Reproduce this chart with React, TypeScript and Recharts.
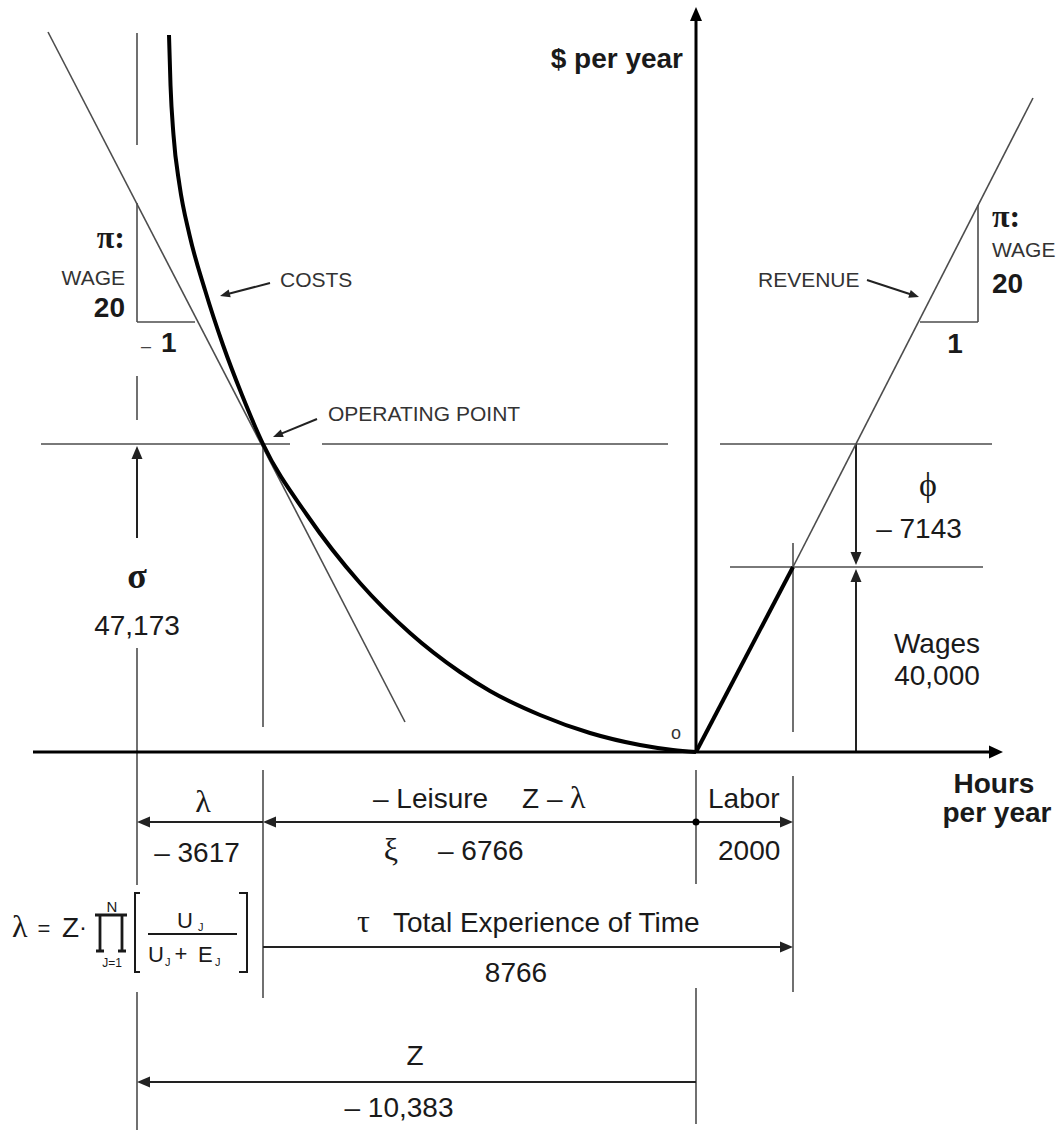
import React from 'react';
import { ComposedChart, XAxis, YAxis, Line, ReferenceLine, ReferenceDot } from 'recharts';

// Schematic diagram units (not to scale): x = hours per year axis, y = $ per year axis, origin O = (0, 0).
const costX = [-527, -525.5, -522.5, -516.5, -506.5, -491, -473, -454, -433, -389, -336, -286, -236, -206, -156, -106, -56, -23, 0];
const costY = [717, 667, 617, 567, 517, 462, 407, 357, 308, 237, 169, 119, 80, 61, 37, 19, 7, 2, 0];
const revenueX = [0, 97, 337];
const revenueY = [0, 185, 654];
const wageLineX = [-648, -291];
const wageLineY = [720, 30];

// key positions on the hours axis and the $ axis
const hourMarks = { Z: -559, lambda: -433, O: 0, labor: 97, phi: 160 };
const dollarLevels = { sigma: 308, wages: 185 };
const dimRows = [-70, -195, -330];

const hourValues = ['– 3617', '– 6766', '2000', '8766', '– 10,383'];
const dollarValues = ['47,173', '– 7143', '40,000'];
const curveNames = ['COSTS', 'OPERATING POINT', 'REVENUE'];
const axisTitles = ['$ per year', 'Hours', 'per year'];
const wageTexts = ['π:', 'WAGE', '20', '1'];

const SANS = "'Liberation Sans', Arial, Helvetica, sans-serif";
const SERIF = "'Liberation Serif', 'Times New Roman', serif";
const THIN = '#4d4d4d';
const DARK = '#1a1a1a';

type SegOpt = { w?: number; c?: string; head?: boolean; hl?: number; hw?: number };

function drawSeg(p: any, o: SegOpt) {
  const { x1, y1, x2, y2 } = p;
  const w = o.w ?? 1.6;
  const c = o.c ?? THIN;
  if (!o.head) {
    return <line x1={x1} y1={y1} x2={x2} y2={y2} stroke={c} strokeWidth={w} />;
  }
  const dx = x2 - x1;
  const dy = y2 - y1;
  const len = Math.hypot(dx, dy) || 1;
  const ux = dx / len;
  const uy = dy / len;
  const L = o.hl ?? 13;
  const H = o.hw ?? 5.5;
  const bx = x2 - ux * L;
  const by = y2 - uy * L;
  const pts = `${x2},${y2} ${bx - uy * H},${by + ux * H} ${bx + uy * H},${by - ux * H}`;
  return (
    <g>
      <line x1={x1} y1={y1} x2={bx + ux} y2={by + uy} stroke={c} strokeWidth={w} />
      <polygon points={pts} fill={c} />
    </g>
  );
}

function seg(key: string, a: [number, number], b: [number, number], o: SegOpt = {}) {
  return (
    <ReferenceLine
      key={key}
      segment={[{ x: a[0], y: a[1] }, { x: b[0], y: b[1] }]}
      ifOverflow="visible"
      shape={(p: any) => drawSeg(p, o)}
    />
  );
}

function note(key: string, x: number, y: number, render: (cx: number, cy: number) => React.ReactNode) {
  return (
    <ReferenceDot
      key={key}
      x={x}
      y={y}
      r={1}
      ifOverflow="visible"
      isFront
      shape={(p: any) => <g>{render(p.cx, p.cy)}</g>}
    />
  );
}

type TOpt = { size?: number; weight?: string | number; anchor?: 'start' | 'middle' | 'end'; family?: string; fill?: string };
function T(x: number, y: number, s: React.ReactNode, o: TOpt = {}) {
  return (
    <text
      x={x}
      y={y}
      fontSize={o.size ?? 28}
      fontWeight={o.weight ?? 'normal'}
      textAnchor={o.anchor ?? 'start'}
      fontFamily={o.family ?? SANS}
      fill={o.fill ?? DARK}
    >
      {s}
    </text>
  );
}

export default function App() {
  const costData = costX.map((x, i) => ({ x, y: costY[i] }));
  const revThick = revenueX.slice(0, 2).map((x, i) => ({ x, y: revenueY[i] }));
  const revThin = revenueX.slice(1).map((x, i) => ({ x, y: revenueY[i + 1] }));
  const wageLine = wageLineX.map((x, i) => ({ x, y: wageLineY[i] }));

  const { Z, lambda, O, labor, phi } = hourMarks;
  const { sigma, wages } = dollarLevels;
  const [r1, r2, r3] = dimRows;
  const dim = { w: 2, c: '#222', head: true, hl: 13, hw: 5.5 };
  const ptr = { w: 2, c: '#222', head: true, hl: 10, hw: 4 };

  return (
    <div style={{ position: 'absolute', left: 0, top: 0, width: 1062, height: 1133, background: '#fff' }}>
      <ComposedChart width={1062} height={1133} margin={{ top: 0, right: 0, bottom: 0, left: 0 }}>
        <XAxis type="number" dataKey="x" domain={[-696, 366]} hide allowDataOverflow />
        <YAxis type="number" dataKey="y" domain={[-381, 752]} hide allowDataOverflow />

        {/* guide lines */}
        {seg('h-sig-1', [-655, sigma], [-406, sigma])}
        {seg('h-sig-2', [-374, sigma], [-28, sigma])}
        {seg('h-sig-3', [24, sigma], [296, sigma])}
        {seg('h-wage', [34, wages], [287, wages])}
        {seg('vz-1', [Z, 719], [Z, 607])}
        {seg('vz-2', [Z, 549], [Z, 430])}
        {seg('vz-3', [Z, 376], [Z, 332])}
        {seg('vz-4', [Z, 104], [Z, -133])}
        {seg('vz-5', [Z, -240], [Z, -378])}
        {seg('tri-l', [Z, 430], [-501, 430])}
        {seg('vl-1', [lambda, sigma], [lambda, 25])}
        {seg('vl-2', [lambda, -18], [lambda, -246])}
        {seg('vo-1', [O, -18], [O, -132])}
        {seg('vo-2', [O, -236], [O, -372])}
        {seg('vlab-1', [labor, 209], [labor, 20])}
        {seg('vlab-2', [labor, -24], [labor, -240])}
        {seg('tri-r-v', [282, 547], [282, 430])}
        {seg('tri-r-h', [224, 430], [282, 430])}

        {/* dimension arrows */}
        {seg('a-sigma', [Z, 214], [Z, sigma - 2], dim)}
        {seg('a-phi', [phi, sigma], [phi, wages + 2], dim)}
        {seg('a-wages', [phi, 0], [phi, wages - 2], dim)}
        {seg('a-lambda', [lambda, r1], [Z, r1], dim)}
        {seg('a-leisure', [O, r1], [lambda, r1], dim)}
        {seg('a-labor', [O, r1], [labor, r1], dim)}
        {seg('a-tau', [lambda, r2], [labor, r2], dim)}
        {seg('a-z', [O, r3], [Z, r3], dim)}

        {/* pointer arrows */}
        {seg('p-costs', [-426, 469], [-476, 456], ptr)}
        {seg('p-op', [-379, 333], [-423, 315], ptr)}
        {seg('p-rev', [171, 472], [223, 455], ptr)}

        {/* axes */}
        {seg('x-axis', [-663, 0], [307, 0], { w: 3, c: '#000', head: true, hl: 14, hw: 6.5 })}
        {seg('y-axis', [0, 0], [0, 745], { w: 3, c: '#000', head: true, hl: 14, hw: 6 })}

        <Line data={wageLine} dataKey="y" type="linear" stroke={THIN} strokeWidth={1.6} dot={false} activeDot={false} isAnimationActive={false} />
        <Line data={revThin} dataKey="y" type="linear" stroke={THIN} strokeWidth={1.6} dot={false} activeDot={false} isAnimationActive={false} />
        <Line data={revThick} dataKey="y" type="linear" stroke="#000" strokeWidth={4} dot={false} activeDot={false} isAnimationActive={false} />
        <Line data={costData} dataKey="y" type="monotone" stroke="#000" strokeWidth={4} dot={false} activeDot={false} isAnimationActive={false} />

        <ReferenceDot x={O} y={r1} r={3.5} fill="#000" stroke="none" ifOverflow="visible" isFront />

        {/* axis titles */}
        {note('t-dollar', -13, 684, (cx, cy) => T(cx, cy, axisTitles[0], { weight: 'bold', anchor: 'end' }))}
        {note('t-hours', 298, -41, (cx, cy) => T(cx, cy, axisTitles[1], { weight: 'bold', anchor: 'middle' }))}
        {note('t-peryear', 301, -70, (cx, cy) => T(cx, cy, axisTitles[2], { weight: 'bold', anchor: 'middle' }))}
        {note('t-o', -20, 13, (cx, cy) => T(cx, cy, 'o', { size: 18, anchor: 'middle', fill: '#333' }))}

        {/* curve names */}
        {note('t-costs', -416, 465, (cx, cy) => T(cx, cy, curveNames[0], { size: 21, fill: '#333' }))}
        {note('t-op', -368, 331, (cx, cy) => T(cx, cy, curveNames[1], { size: 21, fill: '#333' }))}
        {note('t-rev', 62, 465, (cx, cy) => T(cx, cy, curveNames[2], { size: 21, fill: '#333' }))}

        {/* left wage slope */}
        {note('t-pi-l', -571, 504, (cx, cy) => T(cx, cy, wageTexts[0], { size: 32, weight: 'bold', anchor: 'end', family: SERIF }))}
        {note('t-wage-l', -571, 467, (cx, cy) => T(cx, cy, wageTexts[1], { size: 21, anchor: 'end', fill: '#333' }))}
        {note('t-20-l', -571, 435, (cx, cy) => T(cx, cy, wageTexts[2], { anchor: 'end', weight: 'bold' }))}
        {note('t-1-l', -539, 400, (cx, cy) => (
          <g>
            {T(cx - 11, cy, '–', { size: 18, anchor: 'middle', fill: '#444' })}
            {T(cx + 4, cy, wageTexts[3], { weight: 'bold' })}
          </g>
        ))}

        {/* right wage slope */}
        {note('t-pi-r', 296, 525, (cx, cy) => T(cx, cy, wageTexts[0], { size: 32, weight: 'bold', family: SERIF }))}
        {note('t-wage-r', 296, 495, (cx, cy) => T(cx, cy, wageTexts[1], { size: 21, fill: '#333' }))}
        {note('t-20-r', 296, 459, (cx, cy) => T(cx, cy, wageTexts[2], { weight: 'bold' }))}
        {note('t-1-r', 259, 399, (cx, cy) => T(cx, cy, wageTexts[3], { weight: 'bold', anchor: 'middle' }))}

        {/* sigma */}
        {note('t-sigma', Z, 164, (cx, cy) => T(cx, cy, 'σ', { size: 36, weight: 'bold', anchor: 'middle', family: SERIF }))}
        {note('t-sigma-v', Z, 117, (cx, cy) => T(cx, cy, dollarValues[0], { anchor: 'middle' }))}

        {/* phi & wages */}
        {note('t-phi', 232, 256, (cx, cy) => T(cx, cy, 'ϕ', { size: 34, anchor: 'middle', family: SERIF }))}
        {note('t-phi-v', 223, 214, (cx, cy) => T(cx, cy, dollarValues[1], { anchor: 'middle' }))}
        {note('t-wages', 241, 99, (cx, cy) => T(cx, cy, 'Wages', { anchor: 'middle' }))}
        {note('t-wages-v', 241, 67, (cx, cy) => T(cx, cy, dollarValues[2], { anchor: 'middle' }))}

        {/* row 1 */}
        {note('t-lambda', -493, -60, (cx, cy) => T(cx, cy, 'λ', { size: 32, anchor: 'middle', family: SERIF }))}
        {note('t-lambda-v', -499, -110, (cx, cy) => T(cx, cy, hourValues[0], { anchor: 'middle' }))}
        {note('t-leisure', -323, -56, (cx, cy) => (
          <g>
            {T(cx, cy, '– Leisure')}
            {T(cx + 149, cy, 'Z –')}
            {T(cx + 197, cy, 'λ', { size: 32, family: SERIF })}
          </g>
        ))}
        {note('t-xi', -305, -108, (cx, cy) => (
          <g>
            {T(cx, cy, 'ξ', { size: 32, anchor: 'middle', family: SERIF })}
            {T(cx + 47, cy, hourValues[1])}
          </g>
        ))}
        {note('t-labor', 12, -56, (cx, cy) => T(cx, cy, 'Labor'))}
        {note('t-labor-v', 22, -108, (cx, cy) => T(cx, cy, hourValues[2]))}

        {/* row 2 */}
        {note('t-tau', -339, -180, (cx, cy) => (
          <g>
            {T(cx, cy, 'τ', { size: 32, family: SERIF })}
            {T(cx + 36, cy, 'Total Experience of Time')}
          </g>
        ))}
        {note('t-tau-v', -180, -230, (cx, cy) => T(cx, cy, hourValues[3], { anchor: 'middle' }))}

        {/* row 3 */}
        {note('t-z', -281, -313, (cx, cy) => T(cx, cy, 'Z', { anchor: 'middle' }))}
        {note('t-z-v', -297, -365, (cx, cy) => T(cx, cy, hourValues[4], { anchor: 'middle' }))}

        {/* formula for lambda */}
        {note('t-formula', -548, -182, (cx, cy) => (
          <g>
            {T(cx - 136, cy + 3, 'λ', { size: 32, family: SERIF })}
            {T(cx - 104, cy + 2, '=', { size: 22, anchor: 'middle' })}
            {T(cx - 86, cy + 3, 'Z')}
            {T(cx - 65, cy + 1, '·', { size: 24, anchor: 'middle' })}
            <path
              d={`M${cx - 53},${cy - 19} H${cx - 21} M${cx - 48},${cy - 19} V${cy + 17} M${cx - 26},${cy - 19} V${cy + 17} M${cx - 52},${cy + 17} H${cx - 44} M${cx - 30},${cy + 17} H${cx - 22}`}
              stroke={DARK}
              strokeWidth={2.8}
              fill="none"
            />
            {T(cx - 36, cy - 22, 'N', { size: 15, anchor: 'middle' })}
            {T(cx - 36, cy + 33, 'J=1', { size: 12, anchor: 'middle' })}
            <path d={`M${cx - 8},${cy - 41} H${cx - 13} V${cy + 38} H${cx - 8}`} stroke={DARK} strokeWidth={2} fill="none" />
            <path d={`M${cx + 91},${cy - 41} H${cx + 99} V${cy + 38} H${cx + 91}`} stroke={DARK} strokeWidth={2} fill="none" />
            <path d={`M${cx},${cy} H${cx + 89}`} stroke={DARK} strokeWidth={2} />
            {T(cx + 37, cy - 6, 'U', { size: 22, anchor: 'middle' })}
            {T(cx + 50, cy - 3, 'J', { size: 11 })}
            {T(cx, cy + 28, 'U', { size: 22 })}
            {T(cx + 17, cy + 32, 'J', { size: 11 })}
            {T(cx + 33, cy + 27, '+', { size: 22, anchor: 'middle' })}
            {T(cx + 50, cy + 28, 'E', { size: 22 })}
            {T(cx + 67, cy + 32, 'J', { size: 11 })}
          </g>
        ))}
      </ComposedChart>
    </div>
  );
}
